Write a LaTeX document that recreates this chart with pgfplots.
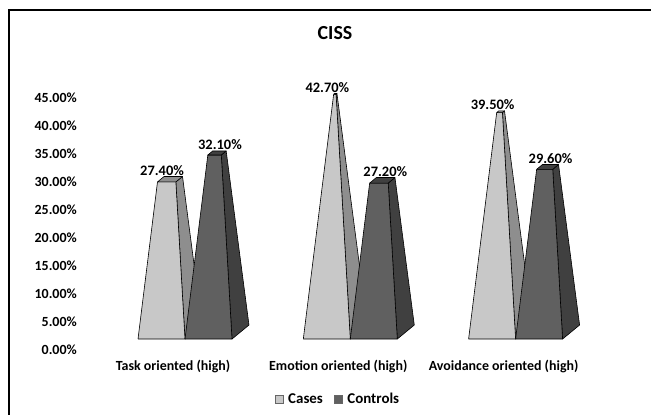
\documentclass[border=0pt]{standalone}
\usepackage{pgfplots}
\pgfplotsset{compat=1.18}
\usepackage{fontspec}
\setmainfont{Carlito}
\definecolor{casesfront}{RGB}{200,200,200}
\definecolor{casesside}{RGB}{142,142,142}
\definecolor{casestop}{RGB}{142,142,142}
\definecolor{controlsfront}{RGB}{96,96,96}
\definecolor{controlsside}{RGB}{64,64,64}
\definecolor{controlstop}{RGB}{64,64,64}
\newcommand{\lblfont}{\bfseries\fontsize{14}{16}\selectfont}
\newcommand{\valfont}{\bfseries\fontsize{14.5}{16}\selectfont}
\newcommand{\legfont}{\bfseries\fontsize{15}{17}\selectfont}
% pyramid geometry (axis units)
\def\pyYz{1.96}
\def\pyW{0.2843}
\def\pyDx{0.1028}
\def\pyDy{2.5}
% #1 category index, #2 offset of front-left base corner, #3 value, #4 series, #5 label text, #6 label shift
\newcommand{\pyramid}[6]{%
  \pgfmathsetmacro\pyL{#1+#2}%
  \pgfmathsetmacro\pyT{#3/45}%
  \pgfmathsetmacro\pyXa{\pyL}%
  \pgfmathsetmacro\pyXb{\pyL+\pyW}%
  \pgfmathsetmacro\pyXc{\pyL+\pyW+\pyDx}%
  \pgfmathsetmacro\pyXd{\pyL+\pyDx}%
  \pgfmathsetmacro\pyYc{\pyYz+\pyDy}%
  \pgfmathsetmacro\pyTXa{\pyXa+\pyT*0.19355}%
  \pgfmathsetmacro\pyTXb{\pyXb-\pyT*0.09075}%
  \pgfmathsetmacro\pyTXc{\pyXc-\pyT*0.19355}%
  \pgfmathsetmacro\pyTXd{\pyXd+\pyT*0.09075}%
  \pgfmathsetmacro\pyTYa{\pyYz+\pyT*46.07}%
  \pgfmathsetmacro\pyTYc{\pyYc+\pyT*43.57}%
  \pgfmathsetmacro\pyLX{\pyL+0.19355+#6}%
  \edef\pyDraw{%
    \noexpand\addplot[forget plot, fill=#4side, draw=black, line width=0.6bp, line join=round]
      coordinates {(\pyXb,\pyYz) (\pyXc,\pyYc) (\pyTXc,\pyTYc) (\pyTXb,\pyTYa) (\pyXb,\pyYz)};
    \noexpand\addplot[forget plot, fill=#4front, draw=black, line width=0.6bp, line join=round]
      coordinates {(\pyXa,\pyYz) (\pyXb,\pyYz) (\pyTXb,\pyTYa) (\pyTXa,\pyTYa) (\pyXa,\pyYz)};
    \noexpand\addplot[forget plot, fill=#4top, draw=black, line width=0.6bp, line join=round]
      coordinates {(\pyTXa,\pyTYa) (\pyTXb,\pyTYa) (\pyTXc,\pyTYc) (\pyTXd,\pyTYc) (\pyTXa,\pyTYa)};
    \noexpand\addplot[forget plot, draw=none, mark=none, nodes near coords={\unexpanded{#5}},
      every node near coord/.append style={anchor=south, inner sep=1bp, font=\noexpand\valfont}]
      coordinates {(\pyLX,\pyTYc)};
  }%
  \pyDraw
}
\begin{document}
\begin{tikzpicture}
\begin{axis}[
  x=165.3bp, y=5.6bp,
  xmin=-0.5808, xmax=2.8917, ymin=0, ymax=45,
  axis line style={draw=none}, major tick length=0pt,
  clip=false,
  /pgf/number format/assume math mode=true,
  ytick={0,5,10,15,20,25,30,35,40,45},
  yticklabel={\pgfmathprintnumber[fixed,fixed zerofill,precision=2]{\tick}\%},
  yticklabel style={anchor=east, inner sep=0pt, font=\lblfont},
  xtick={0,1,2},
  xticklabels={Task oriented (high), Emotion oriented (high), Avoidance oriented (high)},
  xticklabel style={anchor=center, inner sep=0pt, yshift=-17bp, font=\lblfont},
  legend style={draw=none, fill=none, at={(axis cs:0.998,-8.75)}, anchor=center,
    font=\legfont, legend columns=2, inner sep=0pt,
    /tikz/every even column/.append style={column sep=9bp}},
  legend cell align=left,
]
\addlegendimage{legend image code/.code={\draw[fill=casesfront, draw=black!60, line width=0.5bp] (0bp,-4bp) rectangle (8bp,4bp); \path (11bp,0bp);}}
\addlegendentry{Cases}
\addlegendimage{legend image code/.code={\draw[fill=controlsfront, draw=black!60, line width=0.5bp] (0bp,-4bp) rectangle (8bp,4bp); \path (11bp,0bp);}}
\addlegendentry{Controls}

% Cases / Controls values (%)
\pyramid{0}{-0.2117}{27.4}{cases}{27.40\%}{-0.048}
\pyramid{0}{0.0726}{32.1}{controls}{32.10\%}{0.018}
\pyramid{1}{-0.2117}{42.7}{cases}{42.70\%}{-0.048}
\pyramid{1}{0.0726}{27.2}{controls}{27.20\%}{0.018}
\pyramid{2}{-0.2117}{39.5}{cases}{39.50\%}{-0.048}
\pyramid{2}{0.0726}{29.6}{controls}{29.60\%}{0.018}

\node[font=\bfseries\fontsize{20}{22}\selectfont] at (axis cs:0.98,56.6) {CISS};
\draw[line width=2bp] (axis cs:-0.990,-11.607) -- (axis cs:-0.990,60.71) -- (axis cs:2.8917,60.71);
\coordinate (bbBL) at (axis cs:-1.0466,-11.607);
\coordinate (bbTR) at (axis cs:2.8917,62.5);
\end{axis}
\pgfresetboundingbox
\useasboundingbox (bbBL) rectangle (bbTR);
\end{tikzpicture}
\end{document}
